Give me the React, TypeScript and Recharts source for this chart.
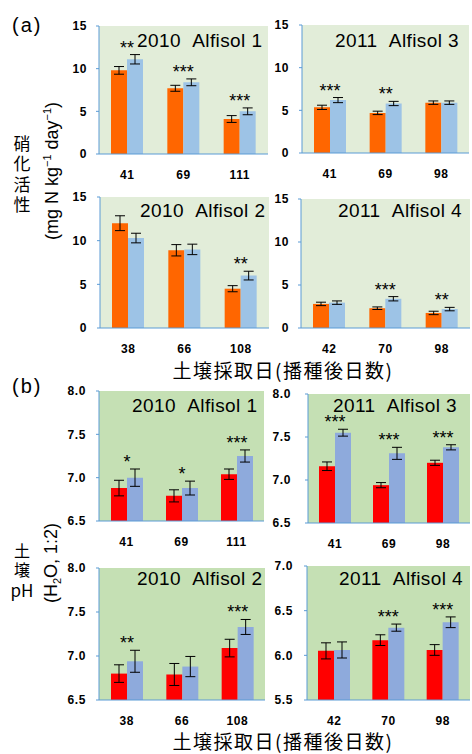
import React from 'react';
import { BarChart, Bar, XAxis, YAxis, ErrorBar, LabelList, CartesianGrid } from 'recharts';

// (a) 硝化活性 (mg N kg-1 day-1): ctrl = orange, trt = light blue
const a1Days = ['41', '69', '111'];
const a1Ctrl = [9.8, 7.7, 4.1];
const a1CtrlErr = [0.45, 0.35, 0.4];
const a1Trt = [11.1, 8.4, 5.0];
const a1TrtErr = [0.55, 0.4, 0.4];
const a1Sig = ['**', '***', '***'];

const a3Days = ['41', '69', '98'];
const a3Ctrl = [5.35, 4.7, 5.9];
const a3CtrlErr = [0.25, 0.2, 0.2];
const a3Trt = [6.2, 5.8, 5.9];
const a3TrtErr = [0.3, 0.25, 0.2];
const a3Sig = ['***', '**', ''];

const a2Days = ['38', '66', '108'];
const a2Ctrl = [12.0, 8.9, 4.5];
const a2CtrlErr = [0.85, 0.65, 0.35];
const a2Trt = [10.3, 9.0, 6.0];
const a2TrtErr = [0.55, 0.6, 0.5];
const a2Sig = ['', '', '**'];

const a4Days = ['42', '70', '98'];
const a4Ctrl = [2.8, 2.3, 1.75];
const a4CtrlErr = [0.2, 0.15, 0.2];
const a4Trt = [2.95, 3.4, 2.2];
const a4TrtErr = [0.2, 0.25, 0.2];
const a4Sig = ['', '***', '**'];

// (b) 土壌pH (H2O, 1:2): ctrl = red, trt = blue
const b1Days = ['41', '69', '111'];
const b1Ctrl = [6.88, 6.79, 7.04];
const b1CtrlErr = [0.09, 0.07, 0.06];
const b1Trt = [7.0, 6.88, 7.25];
const b1TrtErr = [0.1, 0.08, 0.07];
const b1Sig = ['*', '*', '***'];

const b3Days = ['41', '69', '98'];
const b3Ctrl = [7.16, 6.94, 7.2];
const b3CtrlErr = [0.05, 0.03, 0.03];
const b3Trt = [7.55, 7.31, 7.38];
const b3TrtErr = [0.04, 0.07, 0.03];
const b3Sig = ['***', '***', '***'];

const b2Days = ['38', '66', '108'];
const b2Ctrl = [6.8, 6.79, 7.09];
const b2CtrlErr = [0.1, 0.125, 0.1];
const b2Trt = [6.94, 6.88, 7.33];
const b2TrtErr = [0.125, 0.115, 0.085];
const b2Sig = ['**', '', '***'];

const b4Days = ['42', '70', '98'];
const b4Ctrl = [6.05, 6.17, 6.06];
const b4CtrlErr = [0.09, 0.06, 0.06];
const b4Trt = [6.06, 6.31, 6.37];
const b4TrtErr = [0.09, 0.04, 0.06];
const b4Sig = ['', '***', '***'];

const nitTicks = [0, 5, 10, 15];
const ph1Ticks = [6.5, 7.0, 7.5, 8.0];
const ph2Ticks = [5.5, 6.0, 6.5, 7.0];

const AXIS = '#5b9bd5';
const LATIN = "'Liberation Sans', Arial, sans-serif";
const CJK = "'Noto Sans CJK JP', sans-serif";

const styleA = { bg: '#e2edd9', c1: '#ff6600', c2: '#9dc3e6' };
const styleB = { bg: '#c5e0b4', c1: '#ff0000', c2: '#8eaadc' };

const intFmt = (v: number) => String(v);
const phFmt = (v: number) => v.toFixed(1);

// box = plot area [x0, y0, x1, y1]; tx/ty = title start / baseline
const panels = [
  { title: '2010\u00a0\u00a0Alfisol 1', days: a1Days, ctrl: a1Ctrl, ctrlErr: a1CtrlErr, trt: a1Trt, trtErr: a1TrtErr, sig: a1Sig, ticks: nitTicks, fmt: intFmt, st: styleA, box: [99, 26, 268, 154], gap: 12, tx: 137, ty: 47 },
  { title: '2011\u00a0\u00a0Alfisol 3', days: a3Days, ctrl: a3Ctrl, ctrlErr: a3CtrlErr, trt: a3Trt, trtErr: a3TrtErr, sig: a3Sig, ticks: nitTicks, fmt: intFmt, st: styleA, box: [302, 25, 469, 153], gap: 13, tx: 335, ty: 47 },
  { title: '2010\u00a0\u00a0Alfisol 2', days: a2Days, ctrl: a2Ctrl, ctrlErr: a2CtrlErr, trt: a2Trt, trtErr: a2TrtErr, sig: a2Sig, ticks: nitTicks, fmt: intFmt, st: styleA, box: [100, 197, 269, 328], gap: 13, tx: 140, ty: 217 },
  { title: '2011\u00a0\u00a0Alfisol 4', days: a4Days, ctrl: a4Ctrl, ctrlErr: a4CtrlErr, trt: a4Trt, trtErr: a4TrtErr, sig: a4Sig, ticks: nitTicks, fmt: intFmt, st: styleA, box: [301, 199, 470, 328], gap: 12, tx: 338, ty: 217 },
  { title: '2010\u00a0\u00a0Alfisol 1', days: b1Days, ctrl: b1Ctrl, ctrlErr: b1CtrlErr, trt: b1Trt, trtErr: b1TrtErr, sig: b1Sig, ticks: ph1Ticks, fmt: phFmt, st: styleB, box: [99, 391, 264, 521], gap: 13, tx: 132, ty: 412 },
  { title: '2011\u00a0\u00a0Alfisol 3', days: b3Days, ctrl: b3Ctrl, ctrlErr: b3CtrlErr, trt: b3Trt, trtErr: b3TrtErr, sig: b3Sig, ticks: ph1Ticks, fmt: phFmt, st: styleB, box: [308, 394, 470, 523], gap: 17, tx: 333, ty: 412 },
  { title: '2010\u00a0\u00a0Alfisol 2', days: b2Days, ctrl: b2Ctrl, ctrlErr: b2CtrlErr, trt: b2Trt, trtErr: b2TrtErr, sig: b2Sig, ticks: ph1Ticks, fmt: phFmt, st: styleB, box: [99, 568, 265, 700], gap: 13, tx: 137, ty: 585 },
  { title: '2011\u00a0\u00a0Alfisol 4', days: b4Days, ctrl: b4Ctrl, ctrlErr: b4CtrlErr, trt: b4Trt, trtErr: b4TrtErr, sig: b4Sig, ticks: ph2Ticks, fmt: phFmt, st: styleB, box: [307, 566, 470, 700], gap: 14, tx: 339, ty: 585 },
];

const tickStyle = { fill: '#000', fontSize: 12, fontWeight: 700, fontFamily: LATIN, letterSpacing: 0.6 };
const vertical = { writingMode: 'vertical-rl', textOrientation: 'upright' } as React.CSSProperties;

function Panel({ p }: { p: any }) {
  const data = p.days.map((d: string, i: number) => ({
    day: d, c: p.ctrl[i], ce: p.ctrlErr[i], t: p.trt[i], te: p.trtErr[i], sig: p.sig[i],
  }));
  const [x0, y0, x1, y1] = p.box;
  const min = p.ticks[0];
  const domain = [p.ticks[0], p.ticks[p.ticks.length - 1]];
  const YW = 45;

  // stars sit centred on the category, just above the blue bar's error bar
  const renderSig = (props: any) => {
    const vb = props.viewBox || {};
    const x = props.x ?? vb.x;
    const y = props.y ?? vb.y;
    const height = props.height ?? vb.height;
    const d = data[props.index];
    if (!d || !d.sig) return null;
    const k = height / (d.t - min);
    const top = y - d.te * k;
    return (
      <text x={x} y={top - 1} textAnchor="middle" fontSize={18} fontFamily={LATIN} fill="#000">
        {d.sig}
      </text>
    );
  };

  return (
    <div style={{ position: 'absolute', left: x0 - YW, top: y0 - 10 }}>
      <BarChart
        width={x1 - x0 + YW + 2}
        height={y1 - y0 + 10 + 30}
        data={data}
        margin={{ top: 10, right: 2, bottom: 0, left: 0 }}
        barGap={0}
        barSize={16}
      >
        <CartesianGrid horizontal={false} vertical={false} fill={p.st.bg} fillOpacity={1} />
        <XAxis dataKey="day" height={30} tickLine={false} tickSize={0} tickMargin={16} interval={0}
          axisLine={{ stroke: AXIS }} tick={tickStyle} />
        <XAxis xAxisId="top" orientation="top" dataKey="day" height={0} tick={false} tickLine={false}
          axisLine={{ stroke: AXIS }} />
        <YAxis width={YW} domain={domain} ticks={p.ticks} tickFormatter={p.fmt} allowDataOverflow
          tickSize={3} tickMargin={p.gap - 3} tickLine={{ stroke: AXIS }} axisLine={{ stroke: AXIS }} tick={tickStyle} />
        <YAxis yAxisId="r" orientation="right" width={0} domain={domain} tick={false} tickLine={false}
          axisLine={{ stroke: AXIS }} />
        <Bar dataKey="c" fill={p.st.c1} isAnimationActive={false}>
          <ErrorBar dataKey="ce" width={5} stroke="#000" strokeWidth={1} isAnimationActive={false} />
        </Bar>
        <Bar dataKey="t" fill={p.st.c2} isAnimationActive={false}>
          <ErrorBar dataKey="te" width={5} stroke="#000" strokeWidth={1} isAnimationActive={false} />
          <LabelList dataKey="sig" content={renderSig} />
        </Bar>
      </BarChart>
    </div>
  );
}

export default function App() {
  return (
    <div style={{ position: 'absolute', left: 0, top: 0, width: 472, height: 754, background: '#fff', overflow: 'hidden' }}>
      {panels.map((p, i) => (
        <Panel key={i} p={p} />
      ))}
      <svg width={472} height={754} style={{ position: 'absolute', left: 0, top: 0, pointerEvents: 'none' }}>
        <text x={12} y={32} fontSize={20} letterSpacing={2} fontFamily={LATIN}>(a)</text>
        <text x={12} y={393} fontSize={20} letterSpacing={2} fontFamily={LATIN}>(b)</text>

        {/* (a) y label: upright vertical text plus rotated unit */}
        <text x={22} y={135} fontSize={17} letterSpacing={3.5} fontFamily={CJK} style={vertical}>硝化活性</text>
        <g transform="translate(52 171) rotate(-90)">
          <text x={0} y={5.5} textAnchor="middle" fontSize={18} fontFamily={LATIN}>
            (mg{'\u00a0'}N{'\u00a0'}kg
            <tspan dy={-7} fontSize={11}>−1</tspan>
            <tspan dy={7}>{'\u00a0'}day</tspan>
            <tspan dy={-7} fontSize={11}>−1</tspan>
            <tspan dy={7}>)</tspan>
          </text>
        </g>

        {/* (b) y label */}
        <text x={22} y={543} fontSize={16} letterSpacing={3} fontFamily={CJK} style={vertical}>土壌</text>
        <text x={22} y={597} textAnchor="middle" fontSize={17} fontFamily={CJK}>pH</text>
        <g transform="translate(51 563) rotate(-90)">
          <text x={0} y={6} textAnchor="middle" fontSize={18} fontFamily={LATIN}>
            (H
            <tspan dy={4} fontSize={11}>2</tspan>
            <tspan dy={-4}>O,{'\u00a0'}1:2)</tspan>
          </text>
        </g>

        <text x={283} y={378} textAnchor="middle" fontSize={19} letterSpacing={1.5} fontFamily={CJK}>土壌採取日(播種後日数)</text>
        <text x={283} y={749} textAnchor="middle" fontSize={19} letterSpacing={1.5} fontFamily={CJK}>土壌採取日(播種後日数)</text>

        {panels.map((p, i) => (
          <text key={i} x={p.tx} y={p.ty} fontSize={19} letterSpacing={0.4} fontFamily={LATIN}>{p.title}</text>
        ))}
      </svg>
    </div>
  );
}
